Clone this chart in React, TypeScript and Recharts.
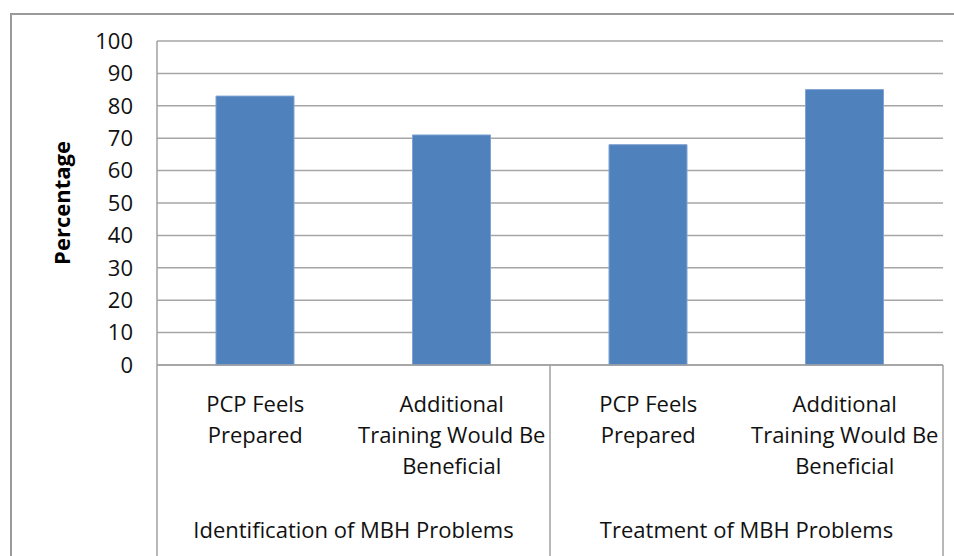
import { Bar, BarChart, CartesianGrid, XAxis, YAxis } from 'recharts';

const categoryLines: string[][] = [
    ['PCP Feels', 'Prepared'],
    ['Additional', 'Training Would Be', 'Beneficial'],
    ['PCP Feels', 'Prepared'],
    ['Additional', 'Training Would Be', 'Beneficial'],
];
const groups = ['Identification of MBH Problems', 'Identification of MBH Problems', 'Treatment of MBH Problems', 'Treatment of MBH Problems'];
const percentages = [83, 71, 68, 85];
const yTicks = [0, 10, 20, 30, 40, 50, 60, 70, 80, 90, 100];

const data = percentages.map((value, i) => ({
    key: `c${i}`,
    lines: categoryLines[i],
    group: groups[i],
    value,
}));

const W = 954;
const H = 556;
const margin = { top: 41, right: 11, bottom: 0, left: 97 };
const yAxisWidth = 60;
const plotLeft = margin.left + yAxisWidth;
const plotRight = W - margin.right;
const band = (plotRight - plotLeft) / data.length;
const font = '"Open Sans", sans-serif';
const fs = 22;

const CategoryTick = (props: any) => {
    const { x, y, payload } = props;
    const idx = payload.index;
    const row = data[idx];
    const isGroupStart = idx === 0 || data[idx - 1].group !== row.group;
    const isLast = idx === data.length - 1;
    return (
        <g>
            {row.lines.map((line, li) => (
                <text
                    key={li}
                    x={x}
                    y={y + 47 + li * 31}
                    textAnchor="middle"
                    fontSize={fs}
                    fontFamily={font}
                    fill="#111"
                >
                    {line}
                </text>
            ))}
            {isGroupStart && (
                <>
                    <line x1={x - band / 2} y1={y} x2={x - band / 2} y2={H} stroke="#a0a0a0" strokeWidth={1.5} />
                    <text
                        x={x - band / 2 + band}
                        y={y + 173}
                        textAnchor="middle"
                        fontSize={fs}
                        fontFamily={font}
                        fill="#111"
                    >
                        {row.group}
                    </text>
                </>
            )}
            {isLast && <line x1={x + band / 2} y1={y} x2={x + band / 2} y2={H} stroke="#a0a0a0" strokeWidth={1.5} />}
        </g>
    );
};

export default function App() {
    return (
        <div style={{ position: 'absolute', left: 0, top: 0, width: W, height: H, background: '#fff', overflow: 'hidden' }}>
            <div
                style={{
                    position: 'absolute',
                    left: 10,
                    top: 13,
                    width: W,
                    height: H,
                    borderLeft: '2px solid #9a9a9a',
                    borderTop: '2px solid #9a9a9a',
                }}
            />
            <div style={{ position: 'absolute', left: 0, top: 0 }}>
                <BarChart width={W} height={H} data={data} margin={margin} barSize={78}>
                    <CartesianGrid vertical={false} stroke="#a6a6a6" strokeWidth={1.5} />
                    <XAxis
                        dataKey="key"
                        height={H - 365}
                        interval={0}
                        tickLine={false}
                        tickSize={0}
                        tickMargin={0}
                        axisLine={{ stroke: '#a0a0a0', strokeWidth: 1.5 }}
                        tick={<CategoryTick />}
                    />
                    <YAxis
                        domain={[0, 100]}
                        ticks={yTicks}
                        width={yAxisWidth}
                        tickLine={false}
                        tickSize={6}
                        tickMargin={18}
                        axisLine={{ stroke: '#a0a0a0', strokeWidth: 1.5 }}
                        tick={{ fontSize: fs, fill: '#111', fontFamily: font }}
                        label={{
                            value: 'Percentage',
                            angle: -90,
                            position: 'insideLeft',
                            offset: 0,
                            dx: -35,
                            style: { fontSize: fs, fontWeight: 'bold', fill: '#000', fontFamily: font, textAnchor: 'middle' },
                        }}
                    />
                    <Bar dataKey="value" fill="#4f81bd" stroke="#7ea3d2" strokeWidth={1} isAnimationActive={false} />
                </BarChart>
            </div>
        </div>
    );
}
